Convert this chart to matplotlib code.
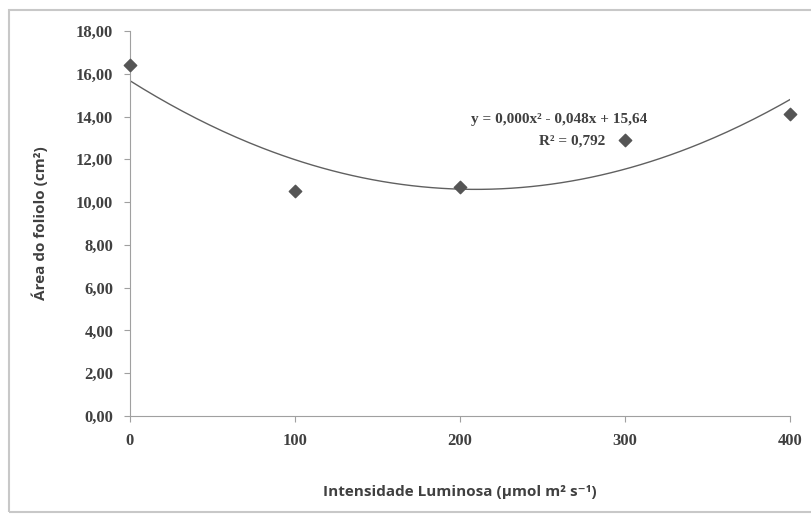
import numpy as np
import matplotlib
matplotlib.use("Agg")
import matplotlib.pyplot as plt
from matplotlib.patches import Rectangle

# leaf area vs light intensity
intensidade = [0, 100, 200, 300, 400]
area = [16.4, 10.5, 10.7, 12.9, 14.1]
yticks = [0, 2, 4, 6, 8, 10, 12, 14, 16, 18]
xticks = [0, 100, 200, 300, 400]
equacao = "y = 0,000x² - 0,048x + 15,64"
r2_text = "R² = 0,792"

txt = "#404040"
serif = "Liberation Serif"
sans = ["Open Sans", "DejaVu Sans"]

fig = plt.figure(figsize=(8.11, 5.16), dpi=100)
fig.patches.append(Rectangle((9 / 811, 4 / 516), 1.2, 502 / 516, transform=fig.transFigure,
                             fill=False, edgecolor="#c8c8c8", linewidth=1.5))
ax = fig.add_axes([130 / 811, 100 / 516, 660 / 811, 385 / 516])

# quadratic trend line
coef = np.polyfit(intensidade, area, 2)
xs = np.linspace(0, 400, 200)
ax.plot(xs, np.polyval(coef, xs), color="#606060", linewidth=1.0, zorder=2)
ax.scatter(intensidade, area, marker="D", s=40, color="#555555", zorder=3, clip_on=False)

ax.set_xlim(0, 400)
ax.set_ylim(0, 18)
ax.set_xticks(xticks)
ax.set_yticks(yticks)
ax.set_xticklabels([str(v) for v in xticks], fontfamily=serif, fontweight="bold", fontsize=12, color=txt)
ax.set_yticklabels([f"{v:.2f}".replace(".", ",") for v in yticks], fontfamily=serif,
                   fontweight="bold", fontsize=12, color=txt)
ax.tick_params(axis="both", direction="out", length=4, color="#a0a0a0", pad=8)
ax.spines["top"].set_visible(False)
ax.spines["right"].set_visible(False)
ax.spines["left"].set_color("#a0a0a0")
ax.spines["bottom"].set_color("#a0a0a0")

ax.set_xlabel("Intensidade Luminosa (µmol m² s⁻¹)", fontfamily=sans, fontweight="bold",
              fontsize=11, color=txt, labelpad=26)
ax.set_ylabel("Área do foliolo (cm²)", fontfamily=sans, fontweight="bold",
              fontsize=11, color=txt, labelpad=20)

ax.text(260, 13.84, equacao, ha="center", va="center", fontfamily=serif, fontweight="bold",
        fontsize=11, color=txt)
ax.text(268, 12.86, r2_text, ha="center", va="center", fontfamily=serif, fontweight="bold",
        fontsize=11, color=txt)

fig.savefig("out.png", dpi=100)
